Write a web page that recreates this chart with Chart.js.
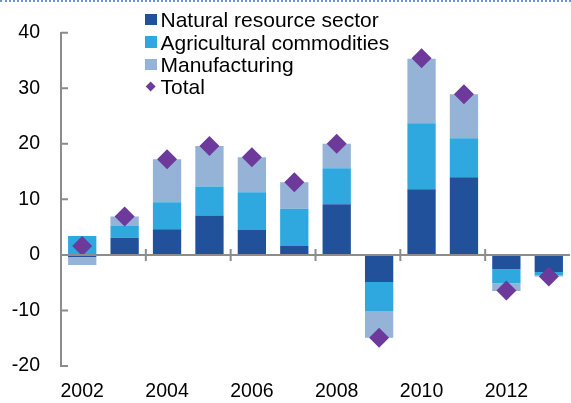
<!DOCTYPE html>
<html><head><meta charset="utf-8">
<script src="https://cdn.jsdelivr.net/npm/chart.js@4.4.0/dist/chart.umd.min.js"></script>
<style>
html,body{margin:0;padding:0;width:571px;height:403px;overflow:hidden;background:#fff;}
#wrap{position:relative;width:580px;height:403px;}
#c{display:block;}
#topline{position:absolute;left:0;top:0;width:571px;height:0;border-top:2px dotted #6f8fd6;}
#legend{position:absolute;left:145px;top:8.5px;font-family:"Liberation Sans",Arial,sans-serif;font-size:21px;color:#000;line-height:1;}
.row{display:flex;align-items:center;height:22.4px;white-space:nowrap;}
.sw{width:11.5px;height:11.5px;margin-right:4px;flex:none;}
.dm{width:7.3px;height:7.3px;transform:rotate(45deg);margin:0 6.7px 0 1.5px;flex:none;}
</style></head><body>
<div id="wrap"><canvas id="c" width="580" height="403" style="width:580px;height:403px"></canvas><div id="topline"></div><div id="legend"></div></div>
<script>
const years = ['2002','2003','2004','2005','2006','2007','2008','2009','2010','2011','2012','2013'];
const natural = [-0.4, 3.1, 4.6, 7.1, 4.5, 1.6, 9.1, -4.9, 11.8, 14.0, -2.6, -3.1];
const agri    = [3.4, 2.1, 4.9, 5.2, 6.8, 6.7, 6.5, -5.2, 11.9, 7.0, -2.5, -0.5];
const manuf   = [-1.4, 1.7, 7.7, 7.3, 6.3, 4.8, 4.4, -4.8, 11.6, 7.9, -1.4, -0.3];
const total   = [1.6, 6.9, 17.2, 19.6, 17.6, 13.1, 20.0, -14.9, 35.4, 28.9, -6.4, -3.9];
const yTicks  = [-20, -10, 0, 10, 20, 30, 40];

const C_NAT = '#21519b', C_AGR = '#2ea8df', C_MAN = '#95b3d7', C_TOT = '#6d3a9c';
const AXIS = '#8c8c8c';
const FONT = '"Liberation Sans", Arial, sans-serif';

const axisDecor = {
  id: 'axisDecor',
  afterDatasetsDraw(chart) {
    const {ctx, chartArea: a, scales: {x, y}} = chart;
    ctx.save();
    ctx.strokeStyle = AXIS;
    ctx.lineWidth = 2;
    const y0 = y.getPixelForValue(0);
    ctx.beginPath();
    ctx.moveTo(a.left, y0); ctx.lineTo(a.right, y0);
    const half = (x.getPixelForValue(1) - x.getPixelForValue(0)) / 2;
    for (let i = 2; i < years.length; i += 2) {
      const px = x.getPixelForValue(i) - half;
      ctx.moveTo(px, y0 - 6); ctx.lineTo(px, y0 + 6);
    }
    y.ticks.forEach(t => {
      const py = y.getPixelForValue(t.value);
      ctx.moveTo(a.left, py); ctx.lineTo(a.left + 7, py);
    });
    ctx.stroke();
    ctx.restore();
  }
};

const chart = new Chart(document.getElementById('c'), {
  data: {
    labels: years,
    datasets: [
      {type: 'bar', label: 'Natural resource sector', data: natural, backgroundColor: C_NAT, stack: 's', order: 2},
      {type: 'bar', label: 'Agricultural commodities', data: agri, backgroundColor: C_AGR, stack: 's', order: 2},
      {type: 'bar', label: 'Manufacturing', data: manuf, backgroundColor: C_MAN, stack: 's', order: 2},
      {type: 'line', label: 'Total', data: total, stack: 't', showLine: false, pointStyle: 'rectRot',
       pointRadius: 10, pointHoverRadius: 10, pointBackgroundColor: C_TOT, pointBorderColor: C_TOT, pointBorderWidth: 0,
       backgroundColor: C_TOT, borderColor: C_TOT, order: 1}
    ]
  },
  options: {
    responsive: false,
    animation: false,
    events: [],
    layout: {padding: {top: 32, right: 8, bottom: 0, left: 0}},
    datasets: {bar: {categoryPercentage: 1, barPercentage: 0.667, borderWidth: 0}},
    plugins: {legend: {display: false}, tooltip: {enabled: false}},
    scales: {
      x: {
        stacked: true,
        grid: {display: false},
        border: {display: false},
        ticks: {
          autoSkip: false, maxRotation: 0, padding: 6, color: '#000',
          font: {family: FONT, size: 19.5},
          callback: (v, i) => (i % 2 === 0 ? years[i] : null)
        },
        afterFit: s => { s.height = 37; }
      },
      y: {
        stacked: true,
        min: -20, max: 40,
        afterBuildTicks: s => { s.ticks = yTicks.map(v => ({value: v})); },
        grid: {display: true, drawOnChartArea: false, drawTicks: false},
        border: {display: true, color: AXIS, width: 2},
        ticks: {padding: 21, color: '#000', font: {family: FONT, size: 19.5}},
        afterFit: s => { s.width = 61; }
      }
    }
  },
  plugins: [axisDecor]
});

// legend built from the chart's datasets
const leg = document.getElementById('legend');
chart.data.datasets.forEach(ds => {
  const row = document.createElement('div');
  row.className = 'row';
  const mk = document.createElement('span');
  mk.className = ds.type === 'line' ? 'dm' : 'sw';
  mk.style.background = ds.type === 'line' ? ds.pointBackgroundColor : ds.backgroundColor;
  const tx = document.createElement('span');
  tx.textContent = ds.label;
  row.appendChild(mk); row.appendChild(tx);
  leg.appendChild(row);
});
</script>
</body></html>
